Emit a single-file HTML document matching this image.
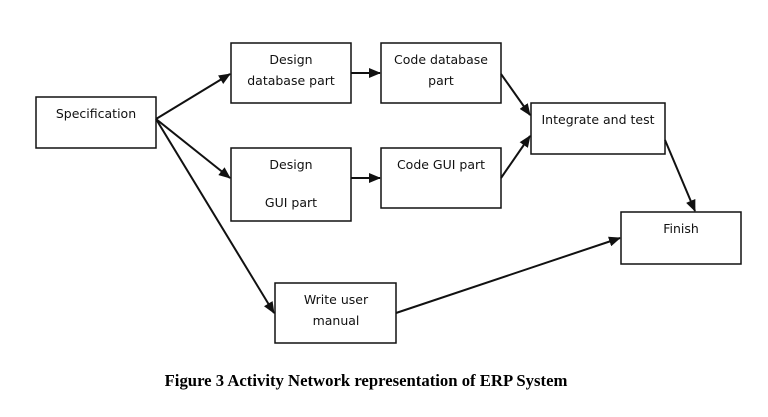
<!DOCTYPE html>
<html><head><meta charset="utf-8"><style>
html,body{margin:0;padding:0;background:#fff;}
svg{display:block;}
.t{font-family:"DejaVu Sans","Liberation Sans",sans-serif;font-size:12.5px;fill:#111;text-anchor:middle;}
.c{font-family:"Liberation Serif",serif;font-size:16.7px;font-weight:bold;fill:#000;text-anchor:middle;}
rect{fill:#fff;stroke:#111;stroke-width:1.5;}
line{stroke:#111;stroke-width:2;}
</style></head><body>
<svg width="768" height="417" viewBox="0 0 768 417" xmlns="http://www.w3.org/2000/svg">
<defs><marker id="a" markerWidth="12" markerHeight="10" refX="11" refY="5" orient="auto" markerUnits="userSpaceOnUse"><path d="M0,0 L12,5 L0,10 z" fill="#111"/></marker></defs>
<rect x="36" y="97" width="120" height="51"/>
<text class="t" x="96" y="118">Specification</text>
<rect x="231" y="43" width="120" height="60"/>
<text class="t" x="291" y="64">Design</text>
<text class="t" x="291" y="85">database part</text>
<rect x="231" y="148" width="120" height="73"/>
<text class="t" x="291" y="169">Design</text>
<text class="t" x="291" y="207">GUI part</text>
<rect x="381" y="43" width="120" height="60"/>
<text class="t" x="441" y="64">Code database</text>
<text class="t" x="441" y="85">part</text>
<rect x="381" y="148" width="120" height="60"/>
<text class="t" x="441" y="169">Code GUI part</text>
<rect x="531" y="103" width="134" height="51"/>
<text class="t" x="598" y="124">Integrate and test</text>
<rect x="621" y="212" width="120" height="52"/>
<text class="t" x="681" y="233">Finish</text>
<rect x="275" y="283" width="121" height="60"/>
<text class="t" x="336" y="304">Write user</text>
<text class="t" x="336" y="325">manual</text>
<line x1="156" y1="119" x2="230" y2="74" marker-end="url(#a)"/>
<line x1="156" y1="119" x2="230" y2="178" marker-end="url(#a)"/>
<line x1="156" y1="119" x2="274" y2="313" marker-end="url(#a)"/>
<line x1="351" y1="73" x2="380" y2="73" marker-end="url(#a)"/>
<line x1="351" y1="178" x2="380" y2="178" marker-end="url(#a)"/>
<line x1="501" y1="74" x2="530" y2="115" marker-end="url(#a)"/>
<line x1="501" y1="178" x2="530" y2="136" marker-end="url(#a)"/>
<line x1="665" y1="140" x2="695" y2="211" marker-end="url(#a)"/>
<line x1="396" y1="313" x2="620" y2="238" marker-end="url(#a)"/>
<text class="c" x="366" y="386">Figure 3 Activity Network representation of ERP System</text>
</svg>
</body></html>
